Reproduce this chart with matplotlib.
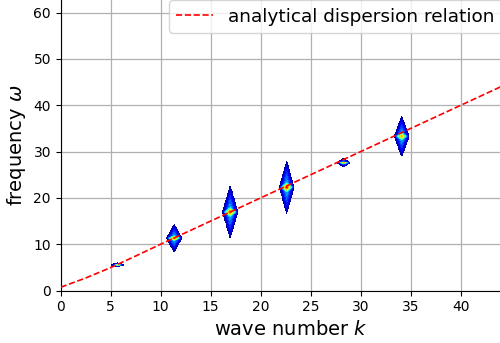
import numpy as np
import matplotlib
matplotlib.use("Agg")
import matplotlib.pyplot as plt

# peaks of the numerical spectrum
peak_k = [5.7, 11.35, 16.95, 22.6, 28.3, 34.1]
peak_w = [5.55, 11.3, 16.95, 22.3, 27.6, 33.3]
peak_base = [0.3, 0.35, 0.35, 0.35, 0.3, 0.35]      # broad diamond level
peak_bump = [0.55, 0.5, 0.5, 0.55, 0.45, 0.4]       # narrow central streak
peak_half_k = [0.65, 0.75, 0.75, 0.72, 0.62, 0.72]
peak_half_w = [0.4, 2.9, 5.6, 5.6, 0.9, 4.3]

# analytical dispersion relation, sampled points
line_k = [0.0, 2.5, 5.0, 7.5, 10.0, 20.0, 30.0, 40.0, 46.0]
line_w = [0.7, 2.7, 4.95, 7.45, 10.0, 20.0, 30.0, 40.0, 46.0]

kk, ww = np.meshgrid(np.arange(0, 46, 0.04), np.arange(0, 64, 0.08))
field = np.zeros_like(kk)
for k0, w0, a, b, hk, hw in zip(peak_k, peak_w, peak_base, peak_bump, peak_half_k, peak_half_w):
    dk = np.abs(kk - k0) / hk
    dw = np.abs(ww - w0) / hw
    broad = np.clip(1 - dk - dw, 0, None)
    narrow = np.clip(1 - dk - dw / 0.18, 0, None)
    f = np.where(broad > 0, 0.02 + a * broad + b * narrow, 0)
    field = np.maximum(field, f)

fig = plt.figure(figsize=(5.0, 3.43), dpi=100)
ax = fig.add_axes([60.7 / 500, 52.5 / 343, 460 / 500, 291 / 343])

ax.set_axisbelow(True)
ax.grid(True, color="#b0b0b0", linewidth=0.9)
ax.contourf(kk, ww, field, levels=np.linspace(0.01, 1.0, 21), cmap="jet", zorder=1)
ax.plot(line_k, line_w, "r--", linewidth=1.2, label="analytical dispersion relation", zorder=3)

ax.set_xlim(0, 46)
ax.set_ylim(0, 62.85)
ax.set_xticks(range(0, 45, 5))
ax.set_yticks(range(0, 61, 10))
ax.tick_params(labelsize=10)
ax.set_xlabel("wave number $k$", fontsize=14)
ax.set_ylabel(r"frequency $\omega$", fontsize=14)
for s in ["top", "right"]:
    ax.spines[s].set_visible(False)

ax.legend(loc="upper left", bbox_to_anchor=((169 - 60.7) / 460, 0.997),
          fontsize=13.3, borderaxespad=0, framealpha=0.8)

fig.savefig("out.png", dpi=100)
